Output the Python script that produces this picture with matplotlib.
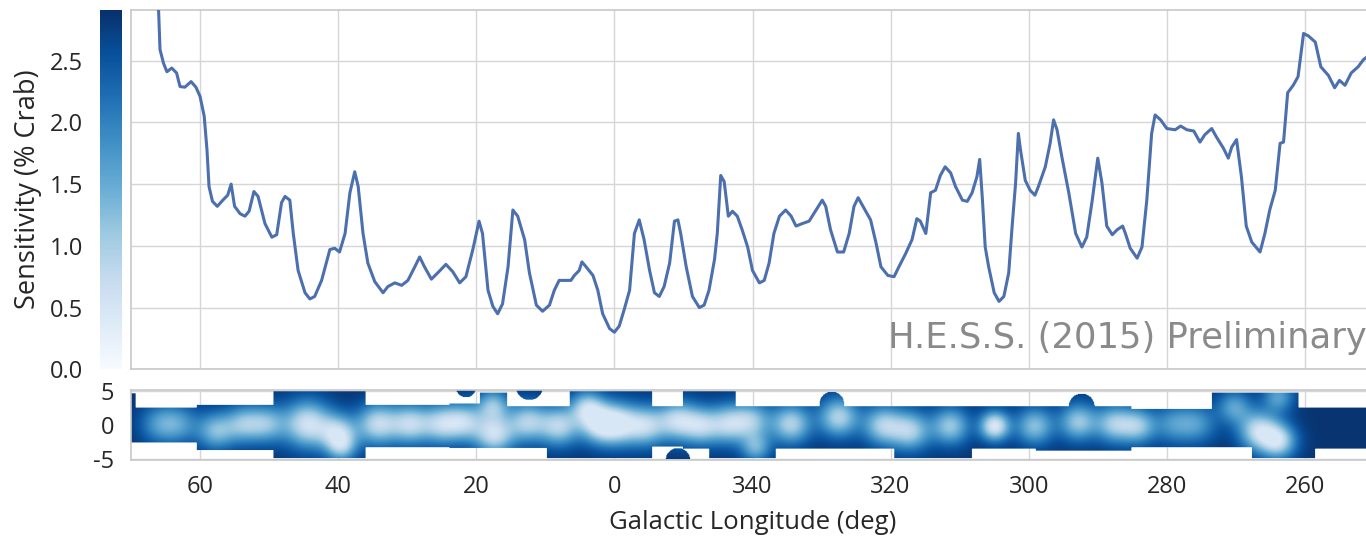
import numpy as np
import matplotlib
matplotlib.use('Agg')
import matplotlib.pyplot as plt
from matplotlib.colors import Normalize
from matplotlib.cm import ScalarMappable

plt.rcParams['font.family'] = ['Open Sans', 'DejaVu Sans']

# longitude, wrapped so that 340 deg -> -20
glon = [66.6, 66.0, 65.8, 65.3, 64.8, 64.1, 63.4, 62.9, 62.2, 61.3, 60.6, 60.0,
        59.4, 59.0, 58.7, 58.2, 57.5, 56.7, 56.0, 55.5, 55.0, 54.2, 53.5, 52.9,
        52.2, 51.6, 50.6, 49.6, 48.9, 48.2, 47.7, 47.0, 46.5, 45.8, 44.8, 44.1,
        43.4, 42.4, 41.2, 40.5, 39.8, 39.0, 38.3, 37.6, 37.1, 36.4, 35.7, 34.7,
        33.5, 32.8, 31.8, 30.8, 29.9, 28.9, 28.2, 27.5, 26.5, 25.6, 24.4, 23.4,
        22.4, 21.5, 20.5, 19.6, 19.1, 18.3, 17.6, 16.9, 16.2, 15.4, 14.7, 14.0,
        13.0, 12.3, 11.3, 10.4, 9.4, 8.7, 8.0, 7.0, 6.3, 5.8, 5.1, 4.7,
        4.1, 3.1, 2.4, 1.7, 0.7, 0.0, -0.7, -1.4, -2.2, -2.9, -3.6, -4.3,
        -5.1, -5.8, -6.5, -7.2, -8.0, -8.7, -9.2, -9.6, -10.4, -11.3, -12.3, -13.0,
        -13.7, -14.5, -14.9, -15.4, -15.9, -16.5, -17.1, -17.8, -18.5, -19.3, -20.0, -21.0,
        -21.7, -22.4, -23.1, -23.9, -24.8, -25.6, -26.3, -27.2, -28.2, -29.2, -30.1, -30.6,
        -31.3, -32.3, -33.2, -34.0, -34.7, -35.3, -36.2, -37.1, -37.9, -38.6, -39.6, -40.5,
        -41.2, -42.2, -43.1, -43.8, -44.3, -45.1, -45.8, -46.5, -47.2, -47.9, -48.7, -49.4,
        -50.4, -51.1, -51.8, -52.5, -52.9, -53.3, -53.7, -54.2, -55.0, -55.7, -56.4, -57.1,
        -57.6, -58.1, -58.5, -58.8, -59.5, -60.2, -60.9, -61.4, -62.4, -63.1, -63.6, -64.1,
        -64.8, -65.8, -66.8, -67.7, -68.4, -69.2, -70.0, -70.6, -71.3, -72.1, -72.8, -73.6,
        -74.0, -74.7, -75.7, -76.4, -77.1, -77.8, -78.3, -79.1, -80.0, -81.2, -82.0, -82.9,
        -83.9, -84.8, -85.5, -86.5, -87.2, -88.2, -88.9, -89.4, -90.1, -90.8, -91.5, -92.3,
        -93.5, -94.2, -94.9, -95.7, -96.4, -96.9, -97.5, -98.3, -99.0, -99.8, -100.5, -101.5,
        -102.3, -103.4, -104.3, -105.0, -105.8, -106.7, -107.7, -108.5, -109.5]

sens = [3.05, 2.90, 2.59, 2.48, 2.41, 2.44, 2.40, 2.29, 2.285, 2.33, 2.285, 2.21,
        2.05, 1.78, 1.48, 1.36, 1.32, 1.37, 1.41, 1.50, 1.32, 1.26, 1.24, 1.28,
        1.44, 1.40, 1.18, 1.07, 1.09, 1.35, 1.40, 1.37, 1.10, 0.80, 0.62, 0.57,
        0.59, 0.72, 0.97, 0.98, 0.95, 1.10, 1.43, 1.60, 1.48, 1.10, 0.86, 0.71,
        0.62, 0.67, 0.70, 0.68, 0.72, 0.83, 0.91, 0.83, 0.73, 0.78, 0.85, 0.79,
        0.70, 0.75, 0.97, 1.20, 1.10, 0.64, 0.51, 0.45, 0.53, 0.83, 1.29, 1.24,
        1.05, 0.78, 0.52, 0.47, 0.52, 0.64, 0.72, 0.72, 0.72, 0.76, 0.80, 0.87,
        0.83, 0.76, 0.64, 0.45, 0.33, 0.30, 0.35, 0.48, 0.64, 1.10, 1.21, 1.05,
        0.80, 0.62, 0.59, 0.67, 0.86, 1.20, 1.21, 1.10, 0.83, 0.59, 0.50, 0.52,
        0.64, 0.89, 1.10, 1.57, 1.52, 1.24, 1.28, 1.24, 1.13, 0.99, 0.80, 0.70,
        0.72, 0.86, 1.10, 1.24, 1.29, 1.24, 1.16, 1.18, 1.20, 1.29, 1.37, 1.32,
        1.13, 0.95, 0.95, 1.10, 1.32, 1.39, 1.30, 1.21, 1.02, 0.83, 0.76, 0.75,
        0.83, 0.94, 1.05, 1.22, 1.20, 1.10, 1.43, 1.45, 1.57, 1.64, 1.59, 1.48,
        1.37, 1.36, 1.43, 1.56, 1.70, 1.37, 0.99, 0.83, 0.62, 0.55, 0.59, 0.78,
        1.16, 1.51, 1.91, 1.78, 1.53, 1.45, 1.41, 1.48, 1.64, 1.83, 2.02, 1.94,
        1.72, 1.43, 1.10, 0.99, 1.07, 1.37, 1.71, 1.51, 1.16, 1.09, 1.13, 1.16,
        1.10, 0.98, 0.90, 0.99, 1.37, 1.91, 2.06, 2.02, 1.95, 1.94, 1.97, 1.94,
        1.93, 1.84, 1.90, 1.95, 1.88, 1.79, 1.71, 1.80, 1.86, 1.56, 1.16, 1.03,
        0.95, 1.10, 1.29, 1.45, 1.83, 1.84, 2.24, 2.30, 2.37, 2.72, 2.70, 2.65,
        2.45, 2.38, 2.28, 2.34, 2.30, 2.40, 2.45, 2.51, 2.55]

# survey coverage in the map: (glon high, glon low, b top, b bottom)
cover_boxes = [(70.0, 69.3, 4.5, -2.7), (69.3, 60.5, 2.4, -2.7), (60.5, 49.4, 2.8, -3.8),
               (49.4, 36.0, 4.8, -5.0), (36.0, 23.9, 2.8, -3.4), (23.9, 19.5, 3.0, -3.5),
               (19.5, 15.5, 4.6, -3.5), (15.5, 9.8, 2.6, -3.5), (9.8, 6.5, 2.6, -5.0),
               (6.5, -5.5, 4.8, -5.0), (-5.5, -9.9, 2.6, -3.3), (-9.9, -13.7, 4.8, -3.6),
               (-13.7, -17.6, 4.8, -5.0), (-17.6, -23.4, 2.6, -5.0), (-23.4, -40.5, 2.6, -3.6),
               (-40.5, -51.8, 2.6, -5.0), (-51.8, -61.0, 2.6, -3.6), (-61.0, -74.9, 2.6, -3.9),
               (-74.9, -86.5, 2.2, -3.4), (-86.5, -92.3, 4.6, -3.4), (-92.3, -99.1, 4.6, -5.0),
               (-99.1, -101.5, 2.4, -5.0), (-101.5, -110.0, 2.4, -3.6)]
# extra round patches of coverage: (glon, b, radius)
cover_disks = [(12.3, 5.5, 2.0), (21.5, 5.4, 1.5), (-9.2, -5.3, 1.8),
               (-31.5, 3.0, 1.8), (-67.7, 2.6, 1.9)]

# deep-exposure spots seen in the map: (glon, b, radius, depth)
map_base = 2.85
spots = [(66.0, 0.0, 2.0, 1.0), (63.0, 0.0, 2.0, 1.0), (57.7, -1.0, 1.9, 1.5),
         (53.7, 0.0, 1.9, 1.5), (50.3, 0.0, 1.9, 1.4), (44.5, 0.0, 2.4, 2.2),
         (40.0, -1.3, 1.9, 1.8), (39.5, -3.5, 1.5, 1.2), (34.3, 0.0, 2.1, 2.0),
         (29.6, 0.0, 2.0, 1.9), (25.1, 0.0, 2.0, 1.8), (21.7, 0.3, 1.9, 1.7),
         (17.6, 2.8, 1.6, 1.5), (17.4, -1.5, 2.0, 2.1), (12.6, 0.3, 2.0, 1.8),
         (8.0, -0.3, 2.0, 1.9), (4.0, 2.5, 1.7, 1.6), (2.3, 0.0, 2.0, 1.9),
         (-0.6, 0.0, 2.1, 2.1), (-4.6, -0.3, 2.0, 1.8), (-9.1, 0.5, 2.0, 1.9),
         (-12.6, -0.3, 1.9, 1.7), (-16.6, 0.0, 2.0, 1.8), (-20.0, 0.5, 1.9, 1.5),
         (-20.5, -3.5, 1.5, 1.3), (-25.6, 0.0, 2.0, 1.9), (-32.5, 1.0, 2.0, 1.9),
         (-38.9, -0.2, 2.0, 1.8), (-42.9, -1.0, 2.0, 1.8), (-48.7, -0.3, 1.9, 1.7),
         (-55.1, -0.3, 1.5, 2.4), (-60.9, -0.3, 1.9, 1.6), (-67.2, 0.3, 1.9, 1.7),
         (-72.4, 0.0, 1.9, 1.7), (-75.9, -0.3, 1.8, 1.6), (-81.0, 0.0, 2.0, 1.0),
         (-84.5, 0.0, 2.0, 1.0), (-89.8, 2.5, 1.7, 1.2), (-93.3, -1.0, 2.0, 2.0),
         (-96.2, -2.5, 1.8, 2.0), (-96.2, 4.0, 1.6, 1.2)]

xticks = [60, 40, 20, 0, -20, -40, -60, -80, -100]
xticklabels = ['60', '40', '20', '0', '340', '320', '300', '280', '260']
yticks = [0.0, 0.5, 1.0, 1.5, 2.0, 2.5]

# build the map image
lg = np.linspace(70, -110, 1800)
bg = np.linspace(-5.1, 5.1, 103)
L, B = np.meshgrid(lg, bg)
val = np.full(L.shape, map_base)
for l0, b0, r, d in spots:
    val -= d * np.exp(-0.5 * ((L - l0) ** 2 + (B - b0) ** 2) / r ** 2)
val = np.clip(val, 0.45, map_base)
inside = np.zeros(L.shape, dtype=bool)
for lhi, llo, btop, bbot in cover_boxes:
    inside |= (L <= lhi) & (L >= llo) & (B <= btop) & (B >= bbot)
for l0, b0, r in cover_disks:
    inside |= ((L - l0) ** 2 + (B - b0) ** 2) <= r ** 2
val = np.ma.masked_where(~inside, val)

W, H = 1366, 541
fig = plt.figure(figsize=(W / 100, H / 100), dpi=100)
grid_c = '#d6d6d6'
spine_c = '#c8c8c8'
text_c = '#262626'

ax = fig.add_axes([131 / W, 1 - 369.3 / H, (1374 - 131) / W, 359.3 / H])
ax.plot(glon, sens, color='#4c6fae', lw=2.2, zorder=3)
ax.set_xlim(70, -110)
ax.set_ylim(0, 2.91)
ax.set_xticks(xticks)
ax.set_yticks(yticks)
ax.tick_params(labelleft=False, labelbottom=False, length=0)
ax.grid(True, color=grid_c, lw=1.0)
ax.set_axisbelow(True)
for s in ax.spines.values():
    s.set_color(spine_c)
    s.set_linewidth(1.2)
ax.text(-108.9, 0.25, 'H.E.S.S. (2015) Preliminary', ha='right', va='center',
        fontsize=25.5, color='#8a8a8a', family=['DejaVu Sans'])

cax = fig.add_axes([100 / W, 1 - 369.3 / H, 22 / W, 359.3 / H])
cmap = plt.get_cmap('Blues')
cb = fig.colorbar(ScalarMappable(norm=Normalize(0, 2.91), cmap=cmap), cax=cax)
cb.outline.set_visible(False)
cax.yaxis.set_ticks_position('left')
cb.set_ticks(yticks)
cb.set_ticklabels(['%.1f' % t for t in yticks])
cax.tick_params(length=0, pad=12, labelsize=17, labelcolor=text_c)
cax.yaxis.set_label_position('left')
cax.set_ylabel('Sensitivity (% Crab)', fontsize=19.5, color=text_c, labelpad=6)

cmap_m = plt.get_cmap('Blues').copy()
cmap_m.set_bad((1, 1, 1, 0))
mx = fig.add_axes([131 / W, 1 - 459.5 / H, (1374 - 131) / W, 69.5 / H])
mx.imshow(val, cmap=cmap_m, norm=Normalize(0, 2.91), origin='lower',
          extent=(70, -110, -5.1, 5.1), aspect='auto', interpolation='bilinear', zorder=2)
mx.set_xlim(70, -110)
mx.set_ylim(-5.1, 5.1)
mx.set_xticks(xticks)
mx.set_xticklabels(xticklabels)
mx.set_yticks([5, 0, -5])
mx.set_yticklabels(['5', '0', '-5'])
mx.tick_params(length=0, labelsize=17, labelcolor=text_c)
mx.tick_params(axis='x', pad=11)
mx.tick_params(axis='y', pad=12)
mx.grid(True, color=grid_c, lw=1.0)
mx.set_axisbelow(True)
for s in mx.spines.values():
    s.set_color(spine_c)
    s.set_linewidth(1.2)
mx.set_xlabel('Galactic Longitude (deg)', fontsize=18.5, color=text_c, labelpad=8)

fig.savefig('out.png', dpi=100)
